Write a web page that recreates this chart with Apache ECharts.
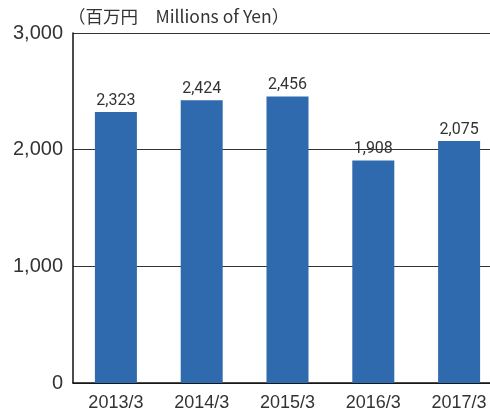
<!DOCTYPE html>
<html>
<head>
<meta charset="utf-8">
<script src="https://cdn.jsdelivr.net/npm/echarts@6/dist/echarts.min.js"></script>
<style>
  html, body { margin: 0; padding: 0; background: #fff; }
  #chart { width: 490px; height: 418px; }
</style>
</head>
<body>
<div id="chart"></div>
<script>
// 売上 (百万円)
const categories = ['2013/3', '2014/3', '2015/3', '2016/3', '2017/3'];
const values = [2323, 2424, 2456, 1908, 2075];
const yTicks = [0, 1000, 2000, 3000];
const unitTitle = '（百万円　Millions of Yen）';

const chart = echarts.init(document.getElementById('chart'));

const option = {
    animation: false,
    title: {
        text: unitTitle,
        left: 63,
        top: 3,
        textStyle: {
            fontFamily: "'Noto Sans CJK JP', sans-serif",
            fontSize: 17.5,
            fontWeight: 'normal',
            color: '#333'
        }
    },
    grid: { left: 73, width: 429, top: 33, bottom: 35, containLabel: false, outerBoundsMode: 'none' },
    xAxis: {
        type: 'category',
        data: categories,
        axisLine: { lineStyle: { color: '#111', width: 1.5 } },
        axisTick: { show: false },
        axisLabel: {
            margin: 11,
            fontFamily: "'Liberation Sans', sans-serif",
            fontSize: 18,
            color: '#333'
        }
    },
    yAxis: {
        type: 'value',
        min: yTicks[0],
        max: yTicks[yTicks.length - 1],
        interval: 1000,
        axisLine: { show: true, lineStyle: { color: '#111', width: 1.5 } },
        axisTick: { show: false },
        splitLine: { lineStyle: { color: '#333', width: 1 } },
        axisLabel: {
            margin: 10,
            fontFamily: "'Liberation Sans', sans-serif",
            fontSize: 20,
            color: '#333',
            formatter: v => v.toLocaleString('en-US')
        }
    },
    series: [{
        type: 'bar',
        data: values,
        barWidth: 42,
        itemStyle: { color: '#2e6aad' },
        label: {
            show: true,
            position: 'top',
            distance: 3,
            fontFamily: 'Roboto, sans-serif',
            fontSize: 16,
            color: '#333',
            formatter: p => p.value.toLocaleString('en-US')
        }
    }]
};

chart.setOption(option);
</script>
</body>
</html>
